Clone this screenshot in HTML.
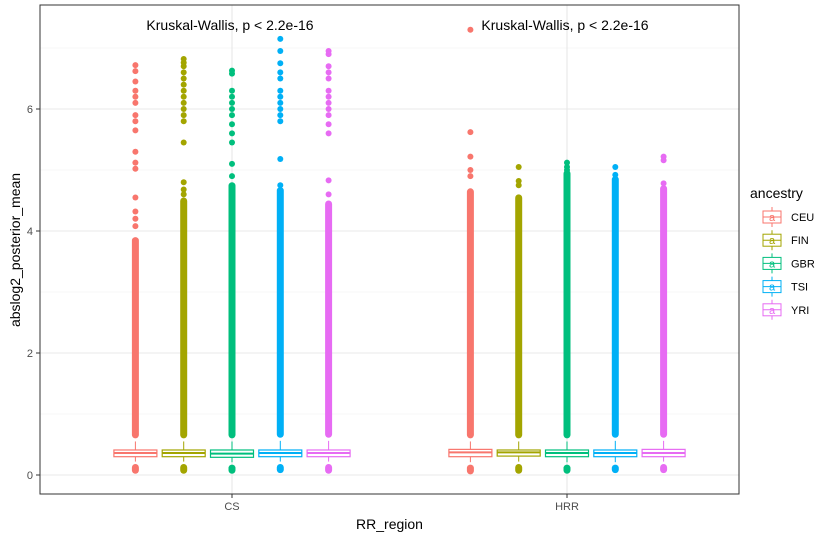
<!DOCTYPE html>
<html><head><meta charset="utf-8"><style>
body{margin:0;background:#fff;font-family:"Liberation Sans",sans-serif}
</style></head><body>
<svg id="c" width="831" height="541" xmlns="http://www.w3.org/2000/svg" font-family="Liberation Sans, sans-serif"></svg>
<script>
const regions=["CS","HRR"];
const ancestries=["CEU","FIN","GBR","TSI","YRI"];
const colors=["#F8766D","#A3A500","#00BF7D","#00B0F6","#E76BF3"];
const q1=[[0.30,0.30,0.29,0.30,0.30],[0.30,0.31,0.30,0.30,0.30]];
const med=[[0.36,0.36,0.35,0.36,0.36],[0.37,0.37,0.36,0.36,0.36]];
const q3=[[0.41,0.41,0.41,0.41,0.41],[0.42,0.41,0.41,0.41,0.42]];
const whiskLo=[[0.22,0.22,0.21,0.22,0.22],[0.21,0.22,0.21,0.21,0.22]];
const whiskHi=[[0.55,0.55,0.55,0.56,0.56],[0.55,0.55,0.55,0.56,0.56]];
const lowOutMin=[[0.02,0.02,0.02,0.03,0.02],[0.01,0.02,0.02,0.03,0.03]];
const denseMax=[[3.9,4.55,4.8,4.72,4.5],[4.7,4.6,5.0,4.9,4.75]];
const sparse=[
 [[6.72,6.62,6.45,6.3,6.2,6.1,5.9,5.8,5.65,5.3,5.12,5.02,4.55,4.32,4.2,4.08],
  [6.82,6.76,6.7,6.6,6.5,6.4,6.3,6.2,6.1,6.0,5.9,5.8,5.45,4.8,4.68,4.6],
  [6.63,6.58,6.3,6.2,6.1,6.0,5.9,5.75,5.6,5.45,5.1,4.9],
  [7.15,6.95,6.75,6.6,6.5,6.3,6.2,6.1,6.0,5.9,5.8,5.18,4.75],
  [6.95,6.9,6.7,6.6,6.5,6.3,6.2,6.1,6.0,5.9,5.75,5.6,4.83,4.6]],
 [[7.3,5.62,5.22,5.0,4.9],[5.05,4.82,4.75],[5.12,5.05,5.0],[5.05,4.92],[5.22,5.16,4.78]]];
const yTicks=[0,2,4,6];
const L=40,R=739,T=5,B=494;
const y=v=>475-61*v;
const xc=i=>232+i*335;
const off=j=>(j-2)*48.3;
const ns="http://www.w3.org/2000/svg";
const svg=document.getElementById('c');
function mk(t,a,p){const e=document.createElementNS(ns,t);for(const k in a)e.setAttribute(k,a[k]);(p||svg).appendChild(e);return e;}
let e=mk('rect',{x:L,y:T,width:R-L,height:B-T,fill:'#fff'});
for(let v=1;v<=7;v+=2){e=mk('line',{x1:L,x2:R,y1:y(v),y2:y(v),stroke:'#f0f0f0','stroke-width':0.6});}
yTicks.forEach(v=>{e=mk('line',{x1:L,x2:R,y1:y(v),y2:y(v),stroke:'#e8e8e8','stroke-width':1.1});
 
 const t=mk('text',{x:33,y:y(v)+4,'text-anchor':'end','font-size':11,fill:'#4d4d4d'});t.textContent=v;
 
 mk('line',{x1:36,x2:L,y1:y(v),y2:y(v),stroke:'#333'});});
regions.forEach((r,i)=>{mk('line',{x1:xc(i),x2:xc(i),y1:T,y2:B,stroke:'#e8e8e8','stroke-width':1.1});
 mk('line',{x1:xc(i),x2:xc(i),y1:B,y2:B+4,stroke:'#333'});
 const t=mk('text',{x:xc(i),y:B+16,'text-anchor':'middle','font-size':11,fill:'#4d4d4d'});t.textContent=r;
 
 const a=mk('text',{x:xc(i)-2,y:30,'text-anchor':'middle','font-size':14,fill:'#000'});a.textContent='Kruskal-Wallis, p < 2.2e-16';
 });
regions.forEach((r,i)=>ancestries.forEach((an,j)=>{
 const cx=xc(i)+off(j),c=colors[j];
 const g=mk('g',{});
 mk('rect',{x:cx-3.5,y:y(denseMax[i][j]),width:7,height:y(whiskHi[i][j]+0.05)-y(denseMax[i][j]),rx:3.5,fill:c},g);
 mk('rect',{x:cx-3.5,y:y(whiskLo[i][j]-0.04),width:7,height:y(lowOutMin[i][j])-y(whiskLo[i][j]-0.04),rx:3.5,fill:c},g);
 sparse[i][j].forEach(v=>mk('circle',{cx:cx,cy:y(v),r:3,fill:c},g));
 mk('line',{x1:cx,x2:cx,y1:y(whiskHi[i][j]),y2:y(q3[i][j]),stroke:c,'stroke-width':1},g);
 mk('line',{x1:cx,x2:cx,y1:y(whiskLo[i][j]),y2:y(q1[i][j]),stroke:c,'stroke-width':1},g);
 mk('rect',{x:cx-21.5,y:y(q3[i][j]),width:43,height:y(q1[i][j])-y(q3[i][j]),fill:'#fff',stroke:c,'stroke-width':1.2},g);
 mk('line',{x1:cx-21.5,x2:cx+21.5,y1:y(med[i][j]),y2:y(med[i][j]),stroke:c,'stroke-width':2},g);
}));
e=mk('rect',{x:L,y:T,width:R-L,height:B-T,fill:'none',stroke:'#333','stroke-width':1});

let t=mk('text',{x:(L+R)/2,y:529,'text-anchor':'middle','font-size':14});t.textContent='RR_region';

t=mk('text',{x:0,y:0,'text-anchor':'middle','font-size':14,transform:'translate(20,250) rotate(-90)'});t.textContent='abslog2_posterior_mean';

t=mk('text',{x:750,y:198,'font-size':14});t.textContent='ancestry';

ancestries.forEach((an,j)=>{const cy=217+j*23.2,c=colors[j];
 const g=mk('g',{});
 mk('line',{x1:772,x2:772,y1:cy-10,y2:cy+10,stroke:c},g);
 mk('rect',{x:763,y:cy-6,width:18,height:12,fill:'#fff',stroke:c},g);
 mk('line',{x1:763,x2:781,y1:cy,y2:cy,stroke:c},g);
 const s=mk('text',{x:772,y:cy+4,'text-anchor':'middle','font-size':11,fill:c},g);s.textContent='a';
 const l=mk('text',{x:791,y:cy+4,'font-size':11,fill:'#000'},g);l.textContent=an;});
</script>
</body></html>
